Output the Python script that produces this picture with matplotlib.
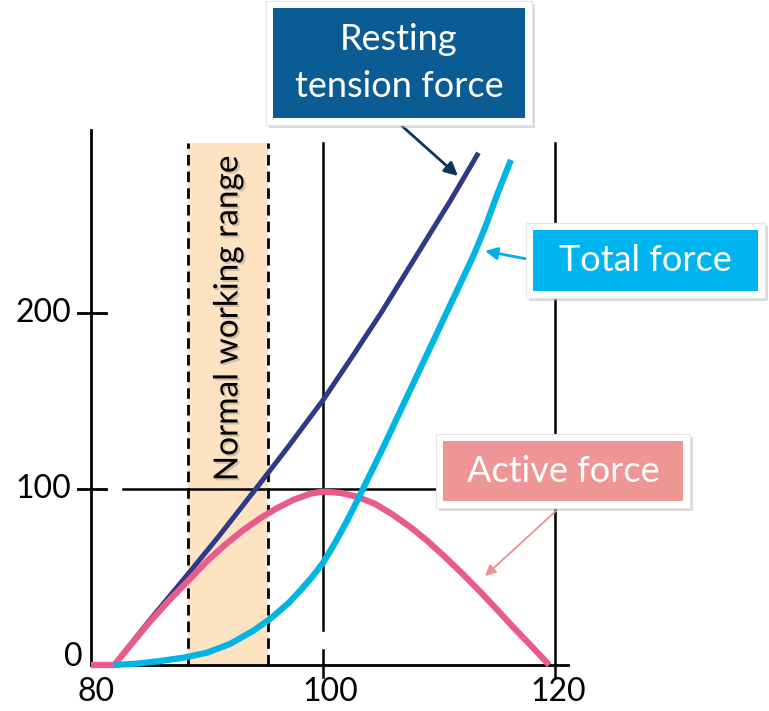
import matplotlib
matplotlib.use("Agg")
import matplotlib.pyplot as plt
from matplotlib.patches import Rectangle, FancyArrowPatch
import matplotlib.patheffects as pe

plt.rcParams['font.family'] = ['Lato', 'DejaVu Sans']

# curve data (muscle length %, force %)
x_rest = [82, 85, 88.4, 91, 94.2, 97, 100, 102.5, 105, 108, 111, 113.4]
y_rest = [0, 25, 52, 73, 100, 124, 150.5, 175, 200, 232, 264, 291]

x_act = [80, 82, 83.5, 85, 86.7, 88.4, 90, 91.5, 93, 94.5, 96, 97.5, 99, 100,
         101.5, 103, 104.5, 106, 107.5, 109, 110.5, 112, 113.5, 115, 116.4, 118, 119.5]
y_act = [0, 0, 12, 24, 36.5, 48, 59, 68, 76, 83, 89, 94, 97.5, 98.5,
         97.8, 95.5, 91.5, 85.5, 78.5, 70.5, 61.5, 52, 42, 31.5, 21.5, 10.5, 0]

x_tot = [82, 84, 86, 88, 90, 92, 94, 95.5, 97, 98, 99, 100, 101, 102, 103, 104,
         105, 106, 107, 108, 109, 110, 111, 112, 113, 114, 115, 116.2]
y_tot = [0, 0.8, 2.3, 4.2, 7, 12, 19.5, 26.5, 35, 42, 49.5, 58, 69, 81, 94, 107.5,
         121, 135, 149, 163, 177, 191, 205, 219, 233, 249, 267, 287]

x_ticks = [80, 100, 120]
y_ticks = [0, 100, 200]
band = (88.4, 95.3)

c_rest = '#2e3a87'
c_act = '#e95b8b'
c_tot = '#00b4e4'
c_band = '#fde3c2'

W, H = 769, 711
fig = plt.figure(figsize=(W / 100, H / 100), dpi=100)
ax = fig.add_axes([0, 0, 1, 1])
ax.set_xlim(80 - 91 / 11.6, 80 + (W - 91) / 11.6)
ax.set_ylim((665 - H) / 1.76, 665 / 1.76)
ax.axis('off')

# normal working range band
top = 296.6
ax.fill_between(band, 0, top, color=c_band, lw=0, zorder=0)
for bx in band:
    ax.plot([bx, bx], [0, top], color='black', lw=2, ls=(0, (3.8, 2.2)), zorder=1)

# axes and reference lines
ax.plot([80, 80], [0, 304], color='black', lw=2, zorder=2)
ax.plot([80, 121.1], [0, 0], color='black', lw=2, zorder=2)
for yt in y_ticks[1:]:
    ax.plot([78.9, 81.3], [yt, yt], color='black', lw=2, zorder=2)
ax.plot([82.8, 110], [100, 100], color='black', lw=1.8, zorder=2)
ax.plot([100, 100], [19.9, top], color='black', lw=1.8, zorder=2)
ax.plot([100, 100], [-6.8, 8.5], color='black', lw=1.8, zorder=2)
ax.plot([120, 120], [-6.8, top], color='black', lw=1.8, zorder=2)

for xt, dx in zip(x_ticks, [0.4, 0.6, 0.25]):
    ax.text(xt + dx, -15.3, str(xt), ha='center', va='center', fontsize=23)
for yt, dy in zip(y_ticks, [4.5, 0, 0]):
    ax.text(79.3 - (1.0 if yt else 0), yt + dy, str(yt), ha='right', va='center', fontsize=23)

ax.text((band[0] + band[1]) / 2, 197, 'Normal working range', rotation=90,
        ha='center', va='center', fontsize=24,
        path_effects=[pe.withSimplePatchShadow(offset=(1.5, -1.5), shadow_rgbFace='gray', alpha=0.35)])

# curves
kw = dict(solid_capstyle='butt', solid_joinstyle='round')
ax.plot(x_rest, y_rest, color=c_rest, lw=3.6, zorder=3, **kw)
ax.plot(x_act, y_act, color=c_act, lw=4.5, zorder=4, **kw)
ax.plot(x_tot, y_tot, color=c_tot, lw=4.5, zorder=5, **kw)


def fx(x):
    return x / W


def fy(y):
    return 1 - y / H


def label_box(x0, y0, x1, y1, color, text, size):
    pad = 7
    fig.add_artist(Rectangle((fx(x0 - pad + 3), fy(y1 + pad + 3)),
                             (x1 - x0 + 2 * pad) / W, (y1 - y0 + 2 * pad) / H,
                             transform=fig.transFigure, fc='#b0b0b0', ec='none',
                             alpha=0.45, zorder=10))
    fig.add_artist(Rectangle((fx(x0 - pad), fy(y1 + pad)),
                             (x1 - x0 + 2 * pad) / W, (y1 - y0 + 2 * pad) / H,
                             transform=fig.transFigure, fc='white', ec='#e6e6e6',
                             lw=0.8, zorder=11))
    fig.add_artist(Rectangle((fx(x0), fy(y1)), (x1 - x0) / W, (y1 - y0) / H,
                             transform=fig.transFigure, fc=color, ec='none', zorder=12))
    fig.text(fx((x0 + x1) / 2), fy((y0 + y1) / 2), text, ha='center', va='center',
             color='white', fontsize=size, linespacing=1.5, zorder=13)


def arrow(p0, p1, color, lw, scale):
    fig.add_artist(FancyArrowPatch((fx(p0[0]), fy(p0[1])), (fx(p1[0]), fy(p1[1])),
                                   transform=fig.transFigure, arrowstyle='-|>',
                                   mutation_scale=scale, color=color, lw=lw,
                                   shrinkA=0, shrinkB=0, zorder=9))


arrow((402, 126), (458, 176), '#0b3560', 2, 20)
arrow((527, 259), (485, 251), '#00aeef', 2, 18)
arrow((557, 510), (485, 576), '#ef9090', 1.3, 16)

label_box(273, 8, 525, 118, '#0b5c94', 'Resting\ntension force', 26)
label_box(533, 230, 758, 291, '#00b4ef', 'Total force', 26)
label_box(443, 441, 683, 501, '#ee9696', 'Active force', 26)

fig.savefig('out.png', dpi=100)
